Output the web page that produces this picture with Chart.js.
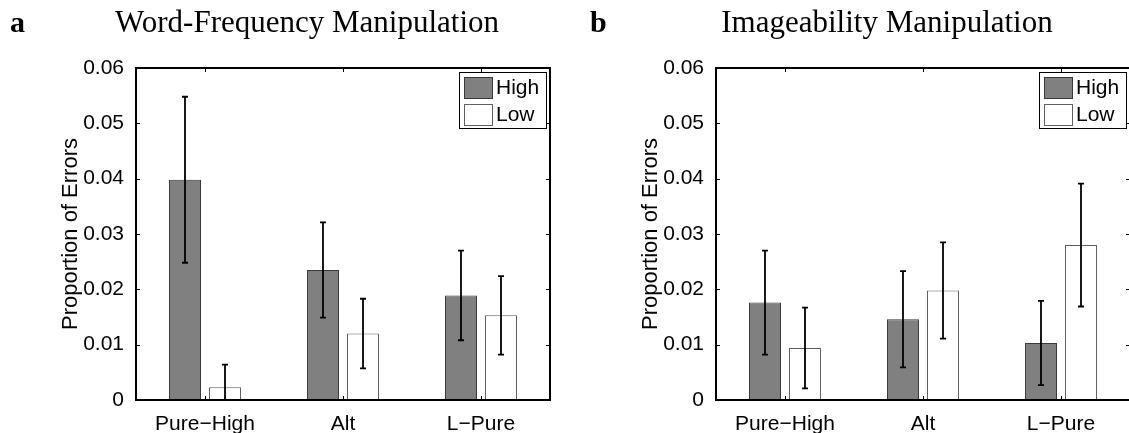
<!DOCTYPE html>
<html>
<head>
    <title>Proportion of Errors</title>
    <script src="https://cdn.jsdelivr.net/npm/chart.js"></script>
    <style>
        body {
            margin: 0;
            background: #fff;
            width: 1129px;
            height: 433px;
            overflow: hidden;
            position: relative;
        }
        .panel {
            position: absolute;
            top: 0;
            width: 565px;
            height: 433px;
        }
        #panelA { left: 0; }
        #panelB { left: 580px; }
    </style>
</head>
<body>
    <div class="panel" id="panelA"><canvas id="chartA" width="565" height="433"></canvas></div>
    <div class="panel" id="panelB"><canvas id="chartB" width="565" height="433"></canvas></div>

    <script>
        // Data
        const conditions = ['Pure\u2212High', 'Alt', 'L\u2212Pure'];
        const seriesNames = ['High', 'Low'];

        // a: word-frequency manipulation (mean and half-length of error bar)
        const freqHigh = [0.0398, 0.0235, 0.0189];
        const freqHighErr = [0.0150, 0.0086, 0.0081];
        const freqLow = [0.0023, 0.0120, 0.0153];
        const freqLowErr = [0.0041, 0.0063, 0.0071];

        // b: imageability manipulation
        const imgHigh = [0.0176, 0.0146, 0.0103];
        const imgHighErr = [0.0094, 0.0087, 0.0076];
        const imgLow = [0.0094, 0.0198, 0.0280];
        const imgLowErr = [0.0073, 0.0087, 0.0111];

        const yMin = 0;
        const yMax = 0.06;
        const yStep = 0.01;

        const sansFont = "'Liberation Sans', Arial, Helvetica, sans-serif";
        const serifFont = "'Liberation Serif', 'Times New Roman', serif";
        const tickLen = 4;

        // MATLAB-style frame: box, inward ticks, error bars, legend, panel title
        const matlabFrame = {
            id: 'matlabFrame',
            afterDatasetsDraw(chart) {
                const ctx = chart.ctx;
                const yScale = chart.scales.y;
                const area = chart.chartArea;
                ctx.save();
                ctx.beginPath();
                ctx.rect(area.left, area.top, area.right - area.left, area.bottom - area.top);
                ctx.clip();
                ctx.strokeStyle = '#000';
                ctx.lineWidth = 1.8;
                chart.data.datasets.forEach((ds, di) => {
                    const meta = chart.getDatasetMeta(di);
                    meta.data.forEach((bar, i) => {
                        const hi = yScale.getPixelForValue(ds.data[i] + ds.errors[i]);
                        const lo = yScale.getPixelForValue(ds.data[i] - ds.errors[i]);
                        ctx.beginPath();
                        ctx.moveTo(bar.x, lo);
                        ctx.lineTo(bar.x, hi);
                        ctx.moveTo(bar.x - 3, hi);
                        ctx.lineTo(bar.x + 3, hi);
                        ctx.moveTo(bar.x - 3, lo);
                        ctx.lineTo(bar.x + 3, lo);
                        ctx.stroke();
                    });
                });
                ctx.restore();
            },
            afterDraw(chart, args, opts) {
                const ctx = chart.ctx;
                const area = chart.chartArea;
                const xScale = chart.scales.x;
                const yScale = chart.scales.y;
                ctx.save();
                ctx.strokeStyle = '#000';

                // inward ticks on all four sides
                ctx.lineWidth = 1;
                ctx.beginPath();
                yScale.ticks.forEach(t => {
                    const y = Math.round(yScale.getPixelForValue(t.value)) + 0.5;
                    ctx.moveTo(area.left, y);
                    ctx.lineTo(area.left + tickLen, y);
                    ctx.moveTo(area.right, y);
                    ctx.lineTo(area.right - tickLen, y);
                });
                xScale.ticks.forEach((t, i) => {
                    const x = Math.round(xScale.getPixelForTick(i)) + 0.5;
                    ctx.moveTo(x, area.bottom);
                    ctx.lineTo(x, area.bottom - tickLen);
                    ctx.moveTo(x, area.top);
                    ctx.lineTo(x, area.top + tickLen);
                });
                ctx.stroke();

                // box
                ctx.lineWidth = 2;
                ctx.strokeRect(area.left, area.top, area.right - area.left, area.bottom - area.top);

                // legend, top right inside the axes
                const boxW = 87, boxH = 56;
                const lx = area.right - 4 - boxW;
                const ly = area.top + 4;
                ctx.fillStyle = '#fff';
                ctx.fillRect(lx, ly, boxW, boxH);
                ctx.lineWidth = 1;
                ctx.strokeRect(lx + 0.5, ly + 0.5, boxW, boxH);
                ctx.font = '21px ' + sansFont;
                ctx.textBaseline = 'middle';
                ctx.textAlign = 'left';
                chart.data.datasets.forEach((ds, di) => {
                    const sy = ly + 5 + di * 27;
                    ctx.fillStyle = ds.backgroundColor;
                    ctx.fillRect(lx + 5, sy, 28, 21);
                    ctx.strokeStyle = ds.borderColor;
                    ctx.strokeRect(lx + 5.5, sy + 0.5, 28, 21);
                    ctx.fillStyle = '#000';
                    ctx.fillText(ds.label, lx + 37, sy + 11);
                });

                // panel letter and title
                ctx.fillStyle = '#000';
                ctx.textBaseline = 'alphabetic';
                ctx.font = 'bold 30px ' + serifFont;
                ctx.fillText(opts.letter, 10, 32);
                ctx.font = '31px ' + serifFont;
                ctx.textAlign = 'center';
                ctx.fillText(opts.title, opts.titleX, 32);
                ctx.restore();
            }
        };

        function makeChart(canvasId, letter, title, high, highErr, low, lowErr) {
            const ctx = document.getElementById(canvasId).getContext('2d');
            return new Chart(ctx, {
                type: 'bar',
                data: {
                    labels: conditions,
                    datasets: [
                        {
                            label: seriesNames[0],
                            data: high,
                            errors: highErr,
                            backgroundColor: '#808080',
                            borderColor: '#3a3a3a',
                            borderWidth: 1
                        },
                        {
                            label: seriesNames[1],
                            data: low,
                            errors: lowErr,
                            backgroundColor: '#ffffff',
                            borderColor: '#606060',
                            borderWidth: 1
                        }
                    ]
                },
                options: {
                    responsive: false,
                    animation: false,
                    devicePixelRatio: 1,
                    categoryPercentage: 0.58,
                    barPercentage: 0.8,
                    layout: {
                        padding: { left: 0, top: 68, right: 15, bottom: 0 }
                    },
                    plugins: {
                        legend: { display: false },
                        tooltip: { enabled: false },
                        matlabFrame: { letter: letter, title: title, titleX: 307 }
                    },
                    scales: {
                        x: {
                            grid: { display: false },
                            border: { display: false },
                            ticks: {
                                color: '#000',
                                padding: 4,
                                font: { family: sansFont, size: 21 }
                            },
                            afterFit(scale) { scale.height = 33; }
                        },
                        y: {
                            min: yMin,
                            max: yMax,
                            grid: { display: false },
                            border: { display: false },
                            ticks: {
                                stepSize: yStep,
                                color: '#000',
                                padding: 4,
                                font: { family: sansFont, size: 21 },
                                callback: function(value) {
                                    return value === 0 ? '0' : value.toFixed(2);
                                }
                            },
                            title: {
                                display: true,
                                text: 'Proportion of Errors',
                                color: '#000',
                                padding: { top: 58, bottom: 0 },
                                font: { family: sansFont, size: 22 }
                            },
                            afterFit(scale) { scale.width = 136; }
                        }
                    }
                },
                plugins: [matlabFrame]
            });
        }

        makeChart('chartA', 'a', 'Word-Frequency Manipulation', freqHigh, freqHighErr, freqLow, freqLowErr);
        makeChart('chartB', 'b', 'Imageability Manipulation', imgHigh, imgHighErr, imgLow, imgLowErr);
    </script>
</body>
</html>
